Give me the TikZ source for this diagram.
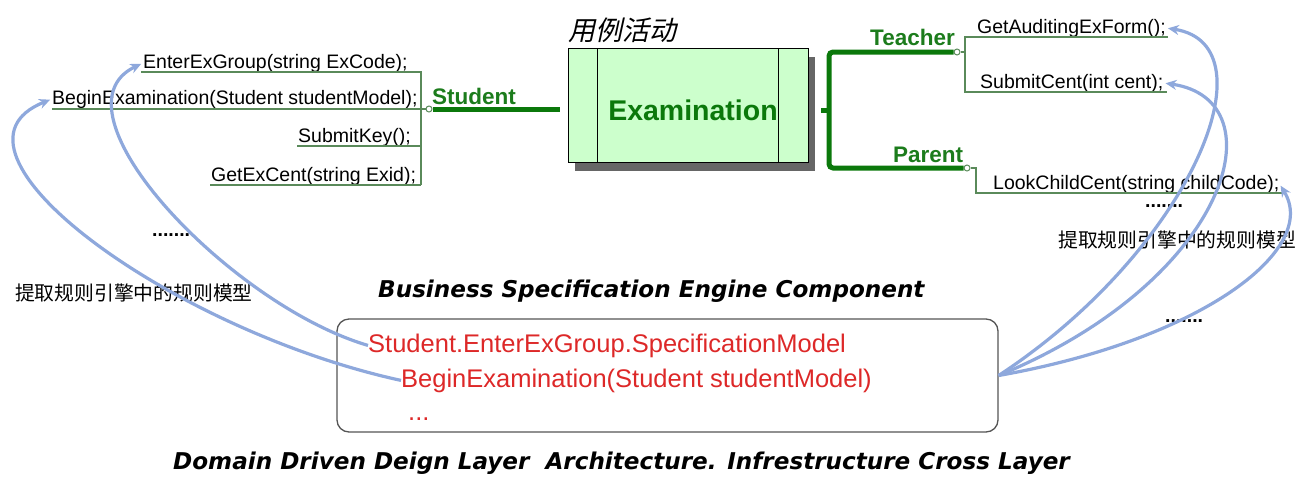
\documentclass[tikz,border=0pt]{standalone}
\usepackage{fontspec}
\setmainfont{Liberation Sans}
\newfontfamily\dvs{DejaVu Sans}
\newfontfamily\cjk{Noto Sans CJK SC}
\newfontfamily\cjkit[FakeSlant=0.22]{Noto Sans CJK SC}
\usetikzlibrary{arrows.meta}
\definecolor{thing}{HTML}{5A8A5A}
\definecolor{thickg}{HTML}{0B780B}
\definecolor{labg}{HTML}{1C7C1C}
\definecolor{examfill}{HTML}{CCFFCC}
\definecolor{shadowgray}{HTML}{666666}
\definecolor{redtxt}{HTML}{DD2828}
\definecolor{arrowblue}{HTML}{8EA8DC}
\definecolor{boxgray}{HTML}{555555}
\tikzset{
  meth/.style={inner sep=0pt, anchor=base west, font=\fontsize{19.5}{22}\selectfont},
  dotsty/.style={inner sep=0pt, anchor=base west, font=\bfseries\fontsize{19.5}{22}\selectfont},
  cn/.style={inner sep=0pt, anchor=west, font=\cjk\fontsize{19.8}{22}\selectfont},
  role/.style={inner sep=0pt, anchor=base west, text=labg, font=\bfseries\fontsize{22.5}{25}\selectfont},
  redsty/.style={inner sep=0pt, anchor=base west, text=redtxt, font=\fontsize{25.5}{28}\selectfont},
  ttl/.style={inner sep=0pt, anchor=base west, font=\dvs\bfseries\itshape\fontsize{23.1}{26}\selectfont},
  thinline/.style={draw=thing, line width=1.4pt},
  thickline/.style={draw=thickg, line width=5pt},
  circ/.style={circle, draw=thing, fill=white, line width=1pt, minimum size=6pt, inner sep=0pt},
  exambox/.style={draw=black, fill=examfill, line width=1pt, minimum width=240pt, minimum height=114pt, inner sep=0pt},
  rbox/.style={draw=boxgray, line width=1.3pt, rounded corners=12pt, minimum width=661pt, minimum height=113pt, inner sep=0pt},
  barrow/.style={draw=arrowblue, line width=3.2pt, -{Stealth[length=11pt,width=10pt]}, shorten >=2pt},
}
\begin{document}
\begin{tikzpicture}[x=1pt,y=-1pt]
\useasboundingbox (0,0) rectangle (1307,482);

% left methods
\node[meth] (mEnter) at (143,68) {EnterExGroup(string ExCode);};
\node[meth] (mBegin) at (52,104) {BeginExamination(Student studentModel);};
\node[meth] (mSubmit) at (298,142) {SubmitKey();};
\node[meth] (mGet) at (211,181) {GetExCent(string Exid);};
\node[dotsty] (dL) at (152,236) {.......};

% right methods
\node[meth] (mAudit) at (977,33) {GetAuditingExForm();};
\node[meth] (mCent) at (980,88) {SubmitCent(int cent);};
\node[meth] (mLook) at (993,189) {LookChildCent(string childCode);};
\node[dotsty] (dR1) at (1145,207) {.......};
\node[dotsty] (dR2) at (1165,322) {.......};

% chinese labels
\node[cn] (cnL) at (15,293) {提取规则引擎中的规则模型};
\node[cn] (cnR) at (1058,240) {提取规则引擎中的规则模型};

% role labels
\node[role] (lStudent) at (432,104) {Student};
\node[role] (lTeacher) at (870,45) {Teacher};
\node[role] (lParent) at (893,162) {Parent};

% examination box
\fill[shadowgray] (575,57) rectangle (815,171);
\node[exambox] (exam) at (688,105) {};
\draw[line width=1pt] (597,48) -- (597,162);
\draw[line width=1pt] (778,48) -- (778,162);
\node[inner sep=0pt, text=thickg, font=\bfseries\fontsize{28.5}{31}\selectfont] (examtxt) at (693,110) {Examination};
\node[inner sep=0pt, font=\cjkit\fontsize{27}{30}\selectfont] (usecase) at (622,30) {用例活动};

% student bracket
\node[circ] (cS) at (429,109) {};
\draw[thinline] (141,72) -- (421,72) -- (421,185);
\draw[thinline] (52,109) -- (cS.west);
\draw[thinline] (297,146) -- (421,146);
\draw[thinline] (210,185) -- (421,185);
\coordinate (sEnd) at (560,109);
\draw[thickline] (cS.east) -- (sEnd);

% teacher / parent bracket
\node[circ] (cT) at (957,52) {};
\node[circ] (cP) at (967,168) {};
\draw[thickline, rounded corners=4pt] (cT.west) -- (829,52) -- (829,168) -- (cP.west);
\coordinate (stubA) at (821,110);
\coordinate (stubB) at (829,110);
\draw[thickline] (stubA) -- (stubB);
\draw[thinline] (cT.east) -- (965,52);
\draw[thinline] (1168,37) -- (965,37) -- (965,92) -- (1167,92);
\draw[thinline] (cP.east) -- (976,168) -- (976,193) -- (1282,193);

% specification box
\node[rbox] (box) at (667.5,375.5) {};
\node[redsty] (r1) at (368,352) {Student.EnterExGroup.SpecificationModel};
\node[redsty] (r2) at (401,387) {BeginExamination(Student studentModel)};
\node[redsty] (r3) at (408,420) {...};

% titles
\node[ttl] (t1) at (378,297) {Business Specification Engine Component};
\node[ttl] (t2) at (173,469) {Domain Driven Deign Layer~ Architecture. Infrestructure Cross Layer};

% blue arrows
\draw[barrow] (r1.west) .. controls (230,305) and (45,110) .. (mEnter.west);
\draw[barrow] (r2.west) .. controls (170,330) and (-75,150) .. (mBegin.west);
\draw[barrow] (box.east) .. controls (1190,250) and (1275,45) .. (mAudit.east);
\draw[barrow] (box.east) .. controls (1230,280) and (1280,100) .. (mCent.east);
\draw[barrow] (box.east) .. controls (1200,340) and (1320,250) .. (mLook.east);
\end{tikzpicture}
\end{document}
